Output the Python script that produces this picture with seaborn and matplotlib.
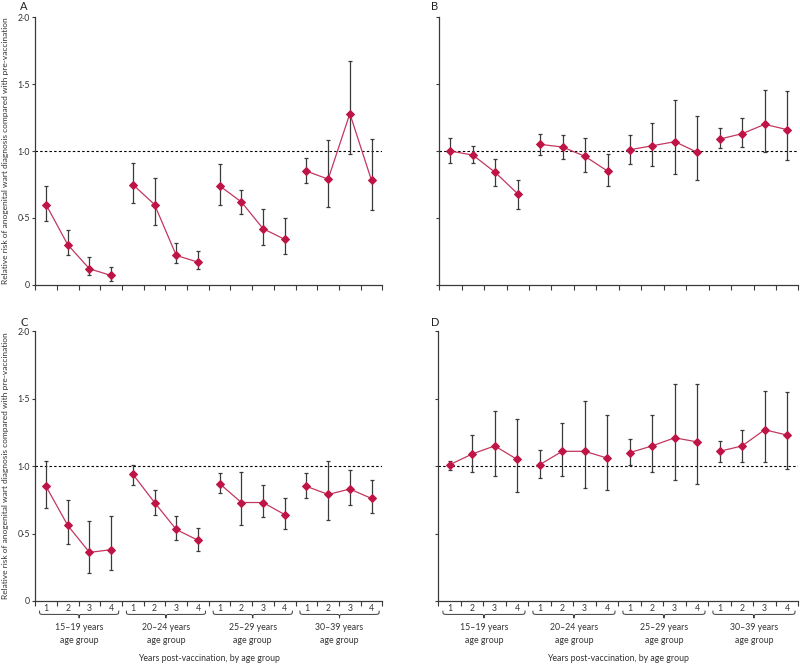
import numpy as np
import pandas as pd
import matplotlib
matplotlib.use("Agg")
import matplotlib.pyplot as plt
import matplotlib.transforms as mtransforms
from matplotlib.path import Path
from matplotlib.patches import PathPatch
import seaborn as sns

# --- data -------------------------------------------------------------------
AGE_GROUPS = ["15–19 years\nage group", "20–24 years\nage group",
              "25–29 years\nage group", "30–39 years\nage group"]
YEARS = ["1", "2", "3", "4"]

# relative risk, lower CI, upper CI; 16 values = 4 age groups x 4 years
rr_a = [0.60, 0.30, 0.12, 0.07, 0.75, 0.60, 0.22, 0.17, 0.74, 0.62, 0.42, 0.34, 0.85, 0.79, 1.28, 0.78]
lo_a = [0.48, 0.22, 0.07, 0.03, 0.61, 0.45, 0.16, 0.12, 0.60, 0.53, 0.30, 0.23, 0.76, 0.58, 0.98, 0.56]
hi_a = [0.74, 0.41, 0.21, 0.13, 0.91, 0.80, 0.31, 0.25, 0.90, 0.71, 0.57, 0.50, 0.95, 1.08, 1.67, 1.09]

rr_b = [1.00, 0.97, 0.84, 0.68, 1.05, 1.03, 0.96, 0.85, 1.01, 1.04, 1.07, 0.99, 1.09, 1.13, 1.20, 1.16]
lo_b = [0.91, 0.91, 0.74, 0.57, 0.97, 0.94, 0.84, 0.74, 0.90, 0.89, 0.83, 0.78, 1.02, 1.03, 0.99, 0.93]
hi_b = [1.10, 1.04, 0.94, 0.78, 1.13, 1.12, 1.10, 0.98, 1.12, 1.21, 1.38, 1.26, 1.17, 1.25, 1.46, 1.45]

rr_c = [0.85, 0.56, 0.36, 0.38, 0.94, 0.73, 0.53, 0.45, 0.87, 0.73, 0.73, 0.64, 0.85, 0.79, 0.83, 0.76]
lo_c = [0.69, 0.42, 0.21, 0.23, 0.86, 0.64, 0.45, 0.37, 0.80, 0.56, 0.62, 0.53, 0.76, 0.60, 0.71, 0.65]
hi_c = [1.04, 0.75, 0.59, 0.63, 1.01, 0.82, 0.63, 0.54, 0.95, 0.96, 0.86, 0.76, 0.95, 1.04, 0.97, 0.90]

rr_d = [1.01, 1.09, 1.15, 1.05, 1.01, 1.11, 1.11, 1.06, 1.10, 1.15, 1.21, 1.18, 1.11, 1.15, 1.27, 1.23]
lo_d = [0.97, 0.96, 0.93, 0.81, 0.91, 0.93, 0.84, 0.82, 1.01, 0.96, 0.90, 0.87, 1.03, 1.03, 1.03, 0.98]
hi_d = [1.04, 1.23, 1.41, 1.35, 1.12, 1.32, 1.48, 1.38, 1.20, 1.38, 1.61, 1.61, 1.19, 1.27, 1.56, 1.55]

Y_TICKS = [0, 0.5, 1.0, 1.5, 2.0]
Y_TICKLABELS = ["0", "0·5", "1·0", "1·5", "2·0"]
Y_LABEL = "Relative risk of anogenital wart diagnosis compared with pre-vaccination"
X_LABEL = "Years post-vaccination, by age group"

RED = "#bf1446"
LINE_RED = "#c3375f"
GREY = "#3a3a3a"
FS = 6.3

sns.set_theme(style="ticks")
plt.rcParams["font.family"] = ["Lato", "DejaVu Sans"]
plt.rcParams["axes.linewidth"] = 0.9
plt.rcParams["axes.edgecolor"] = GREY


def make_df(rr, lo, hi):
    n = len(rr)
    return pd.DataFrame({
        "pos": np.arange(n) + 0.5,
        "group": np.repeat(np.arange(len(AGE_GROUPS)), len(YEARS)),
        "rr": rr, "lo": lo, "hi": hi,
    })


def draw_brace(ax, x0, x1):
    trans = mtransforms.blended_transform_factory(ax.transData, ax.transAxes)
    y_top, y_mid, y_tip = -0.036, -0.05, -0.064
    xc = (x0 + x1) / 2
    d = 0.25
    verts = [
        (x0, y_top), (x0, y_mid), (x0, y_mid), (x0 + d, y_mid),
        (xc - d, y_mid), (xc, y_mid), (xc, y_mid), (xc, y_tip),
        (xc, y_mid), (xc, y_mid), (xc + d, y_mid),
        (x1 - d, y_mid), (x1, y_mid), (x1, y_mid), (x1, y_top),
    ]
    codes = [Path.MOVETO, Path.CURVE4, Path.CURVE4, Path.CURVE4,
             Path.LINETO, Path.CURVE4, Path.CURVE4, Path.CURVE4,
             Path.CURVE4, Path.CURVE4, Path.CURVE4,
             Path.LINETO, Path.CURVE4, Path.CURVE4, Path.CURVE4]
    patch = PathPatch(Path(verts, codes), transform=trans, fill=False,
                      lw=0.7, edgecolor=GREY, clip_on=False)
    ax.add_patch(patch)


def draw_panel(ax, rr, lo, hi, show_ylabels, show_xlabels):
    df = make_df(rr, lo, hi)
    ax.axhline(1.0, color="black", lw=0.8, ls=(0, (2.2, 2.0)), zorder=1)
    ax.errorbar(df["pos"], df["rr"],
                yerr=[df["rr"] - df["lo"], df["hi"] - df["rr"]],
                fmt="none", ecolor=GREY, elinewidth=0.9, capsize=1.6,
                capthick=0.9, zorder=2)
    sns.lineplot(data=df, x="pos", y="rr", units="group", estimator=None,
                 color=LINE_RED, lw=0.9, marker="D", markersize=4.0,
                 markerfacecolor=RED, markeredgecolor=RED, ax=ax, zorder=3)

    ax.set_xlim(0, 16)
    ax.set_ylim(0, 2.0)
    ax.set_xlabel("")
    ax.set_ylabel("")
    sns.despine(ax=ax)

    ax.set_yticks(Y_TICKS)
    ax.tick_params(axis="y", direction="out", length=2.5, width=0.8,
                   color=GREY, pad=1.2, labelsize=FS, labelcolor="#333333")
    if show_ylabels:
        ax.set_yticklabels(Y_TICKLABELS)
    else:
        ax.set_yticklabels([])

    ax.set_xticks(np.arange(0, 17))
    ax.set_xticklabels([])
    ax.tick_params(axis="x", which="major", direction="out", length=3.6,
                   width=0.8, color=GREY)
    ax.set_xticks(df["pos"], minor=True)
    ax.tick_params(axis="x", which="minor", length=0, pad=2.4,
                   labelsize=FS, labelcolor="#333333")
    if show_xlabels:
        ax.set_xticklabels(YEARS * len(AGE_GROUPS), minor=True)
        for g, name in enumerate(AGE_GROUPS):
            x0, x1 = g * 4 + 0.2, g * 4 + 3.85
            draw_brace(ax, x0, x1)
            ax.text((x0 + x1) / 2, -0.083, name, ha="center", va="top",
                    fontsize=FS, color="#333333", linespacing=1.55,
                    transform=mtransforms.blended_transform_factory(ax.transData, ax.transAxes))
        ax.text(0.5, -0.215, X_LABEL, ha="center", va="center", fontsize=FS,
                color="#333333", transform=ax.transAxes)
    else:
        ax.set_xticklabels([], minor=True)


fig = plt.figure(figsize=(8, 6.64), dpi=100)
ax_a = fig.add_axes([0.044, 0.571, 0.434, 0.403])
ax_b = fig.add_axes([0.549, 0.571, 0.449, 0.403])
ax_c = fig.add_axes([0.044, 0.095, 0.434, 0.406])
ax_d = fig.add_axes([0.548, 0.095, 0.450, 0.406])

draw_panel(ax_a, rr_a, lo_a, hi_a, True, False)
draw_panel(ax_b, rr_b, lo_b, hi_b, False, False)
draw_panel(ax_c, rr_c, lo_c, hi_c, True, True)
draw_panel(ax_d, rr_d, lo_d, hi_d, False, True)

for letter, x, y in [("A", 24, 6), ("B", 435, 6), ("C", 24, 322), ("D", 435, 322)]:
    fig.text(x / 800, 1 - y / 664, letter, ha="center", va="center",
             fontsize=8, color="#222222")

for y in [151, 466]:
    fig.text(6 / 800, 1 - y / 664, Y_LABEL, rotation=90, ha="center",
             va="center", fontsize=6.0, color="#333333")

fig.savefig("out.png", dpi=100)
